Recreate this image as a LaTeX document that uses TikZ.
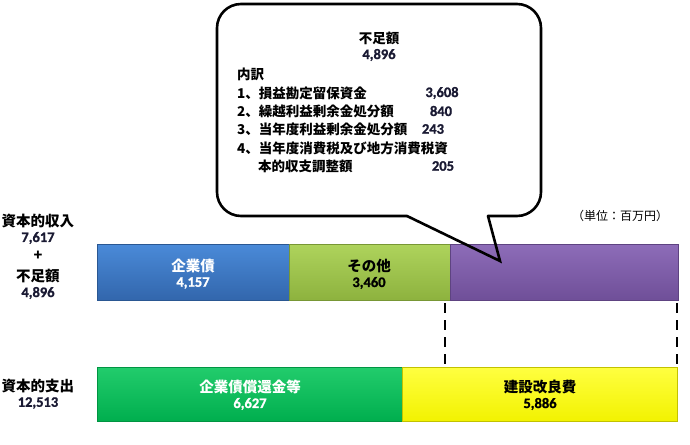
\documentclass[tikz,border=0pt]{standalone}
\usepackage{fontspec}
\newfontfamily\cjk{Noto Sans CJK JP}
\newfontfamily\num{Carlito}[BoldFont={Carlito Bold}, BoldFeatures={FakeBold=1.2}]
\definecolor{blueT}{HTML}{4A8AD8}\definecolor{blueB}{HTML}{3266AC}
\definecolor{limeT}{HTML}{AED35C}\definecolor{limeB}{HTML}{8DB23E}
\definecolor{purT}{HTML}{8D6CB8}\definecolor{purB}{HTML}{6F4F98}
\definecolor{grnT}{HTML}{22CC6C}\definecolor{grnB}{HTML}{00AE4E}
\definecolor{yelT}{HTML}{FFFF40}\definecolor{yelB}{HTML}{F2F200}
\definecolor{numc}{HTML}{1A1A33}
\begin{document}
\begin{tikzpicture}[x=1pt,y=-1pt,
  bar/.style={rectangle, inner sep=0pt, anchor=north west, minimum height=56pt, line width=0.8pt},
  jp/.style={font=\cjk\bfseries\fontsize{14.5}{16}\selectfont, inner sep=0pt},
  jps/.style={font=\cjk\bfseries\fontsize{13.5}{15}\selectfont, inner sep=0pt},
  nm/.style={font=\num\bfseries\fontsize{14.5}{16}\selectfont, inner sep=0pt, text=numc},
  co/.style={line width=2.6pt, black},
  dsh/.style={line width=2.8pt, black, dash pattern=on 10pt off 7pt}]
\useasboundingbox (0,0) rectangle (690,444);
% bars
\node[bar, minimum width=192pt, draw=blueB!85!black, top color=blueT, bottom color=blueB] (bond) at (97,244) {};
\node[bar, minimum width=161pt, draw=limeB!85!black, top color=limeT, bottom color=limeB] (other) at (289,244) {};
\node[bar, minimum width=228pt, draw=purB!85!black, top color=purT, bottom color=purB] (short) at (450,244) {};
\node[bar, minimum width=305pt, minimum height=54pt, draw=grnB!85!black, top color=grnT, bottom color=grnB] (repay) at (97,367) {};
\node[bar, minimum width=275pt, minimum height=54pt, draw=yelB!80!black, top color=yelT, bottom color=yelB] (build) at (402,367) {};
% bar labels
\node[jp, text=white] (t1) at (193,266) {企業債};
\node[nm, text=white] (n1) at (193,283) {4,157};
\node[jp, text=black] (t2) at (369,266) {その他};
\node[nm, text=black] (n2) at (369,283) {3,460};
\node[jp, text=white] (t3) at (250,387) {企業債償還金等};
\node[nm, text=white] (n3) at (250,404) {6,627};
\node[jp, text=black] (t4) at (540,387) {建設改良費};
\node[nm, text=black] (n4) at (540,404) {5,886};
% left labels
\node[jp] (l1) at (38,221) {資本的収入};
\node[nm] (l2) at (38,238) {7,617};
\node[jp] (l3) at (38,256) {+};
\node[jp] (l4) at (38,276) {不足額};
\node[nm] (l5) at (38,293) {4,896};
\node[jp] (l6) at (38,386) {資本的支出};
\node[nm] (l7) at (38,403) {12,513};
% unit
\node[font=\cjk\fontsize{12}{14}\selectfont, inner sep=0pt] (unit) at (620,216) {（単位：百万円）};
% dashed lines
\coordinate (da) at (445,303); \coordinate (db) at (445,368);
\coordinate (dc) at (677,303); \coordinate (dd) at (677,368);
\draw[dsh] (da) -- (db);
\draw[dsh] (dc) -- (dd);
% callout
\coordinate (tl) at (407,216); \coordinate (tr) at (488,216); \coordinate (tip) at (500,261);
\draw[co, rounded corners=24pt, line cap=round] (tl) -- (217,216) -- (217,4) -- (541,4) -- (541,216) -- (tr);
\draw[co, line join=miter, line cap=round] (tl) -- (tip) -- (tr);
\node[jps] (c1) at (379,38) {不足額};
\node[nm] (c2) at (379,55) {4,896};
\node[jps, anchor=west] (c3) at (237,74) {内訳};
\node[jps, anchor=west] (c4) at (237,93) {1、損益勘定留保資金};
\node[nm] (c4n) at (442,93) {3,608};
\node[jps, anchor=west] (c5) at (237,111) {2、繰越利益剰余金処分額};
\node[nm] (c5n) at (441,111) {840};
\node[jps, anchor=west] (c6) at (237,129) {3、当年度利益剰余金処分額};
\node[nm] (c6n) at (433,129) {243};
\node[jps, anchor=west] (c7) at (237,148) {4、当年度消費税及び地方消費税資};
\node[jps, anchor=west] (c8) at (258,166) {本的収支調整額};
\node[nm] (c8n) at (443,166) {205};
\end{tikzpicture}
\end{document}
